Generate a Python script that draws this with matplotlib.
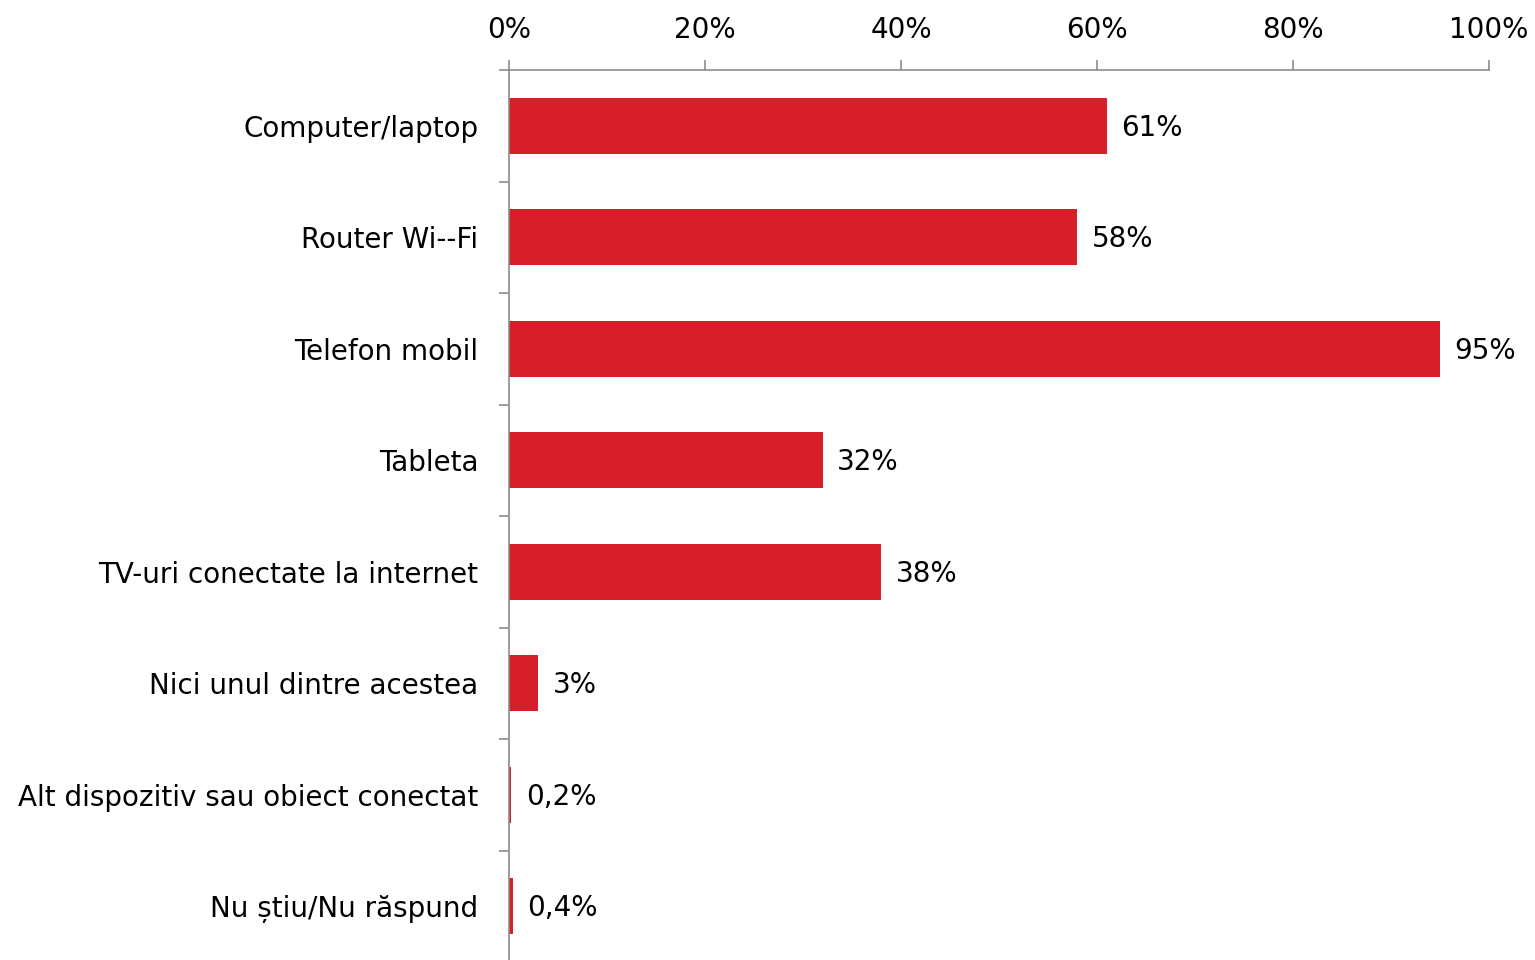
import matplotlib.pyplot as plt
from matplotlib.ticker import FixedLocator

categories = [
    "Computer/laptop",
    "Router Wi--Fi",
    "Telefon mobil",
    "Tableta",
    "TV-uri conectate la internet",
    "Nici unul dintre acestea",
    "Alt dispozitiv sau obiect conectat",
    "Nu știu/Nu răspund",
]
values = [61, 58, 95, 32, 38, 3, 0.2, 0.4]
value_labels = ["61%", "58%", "95%", "32%", "38%", "3%", "0,2%", "0,4%"]
x_ticks = [0, 20, 40, 60, 80, 100]

plt.rcParams["font.family"] = ["DejaVu Sans"]
grey = "#8c8c8c"
fs = 20

fig = plt.figure(figsize=(15.35, 9.6), dpi=100)
ax = fig.add_axes([509 / 1535, -2 / 960, 980 / 1535, 892 / 960])

y = list(range(len(categories)))
ax.barh(y, values, height=0.5, color="#d71f2a")
for yi, v, lab in zip(y, values, value_labels):
    ax.text(v + 1.5, yi + 0.02, lab, va="center", ha="left", fontsize=fs)

ax.set_xlim(0, 100)
ax.set_ylim(len(categories) - 0.5, -0.5)

ax.xaxis.tick_top()
ax.set_xticks(x_ticks)
ax.set_xticklabels([f"{t}%" for t in x_ticks], fontsize=fs)
ax.tick_params(axis="x", length=7, width=1.2, color=grey, pad=12)

ax.set_yticks(y)
ax.set_yticklabels(categories, fontsize=fs)
ax.tick_params(axis="y", which="major", length=0, pad=22)
ax.yaxis.set_minor_locator(FixedLocator([i + 0.5 for i in range(len(categories) - 1)] + [-0.5]))
ax.tick_params(axis="y", which="minor", length=7, width=1.2, color=grey)

for side in ["right", "bottom"]:
    ax.spines[side].set_visible(False)
for side in ["top", "left"]:
    ax.spines[side].set_color(grey)
    ax.spines[side].set_linewidth(1.2)

fig.savefig("out.png", dpi=100)
